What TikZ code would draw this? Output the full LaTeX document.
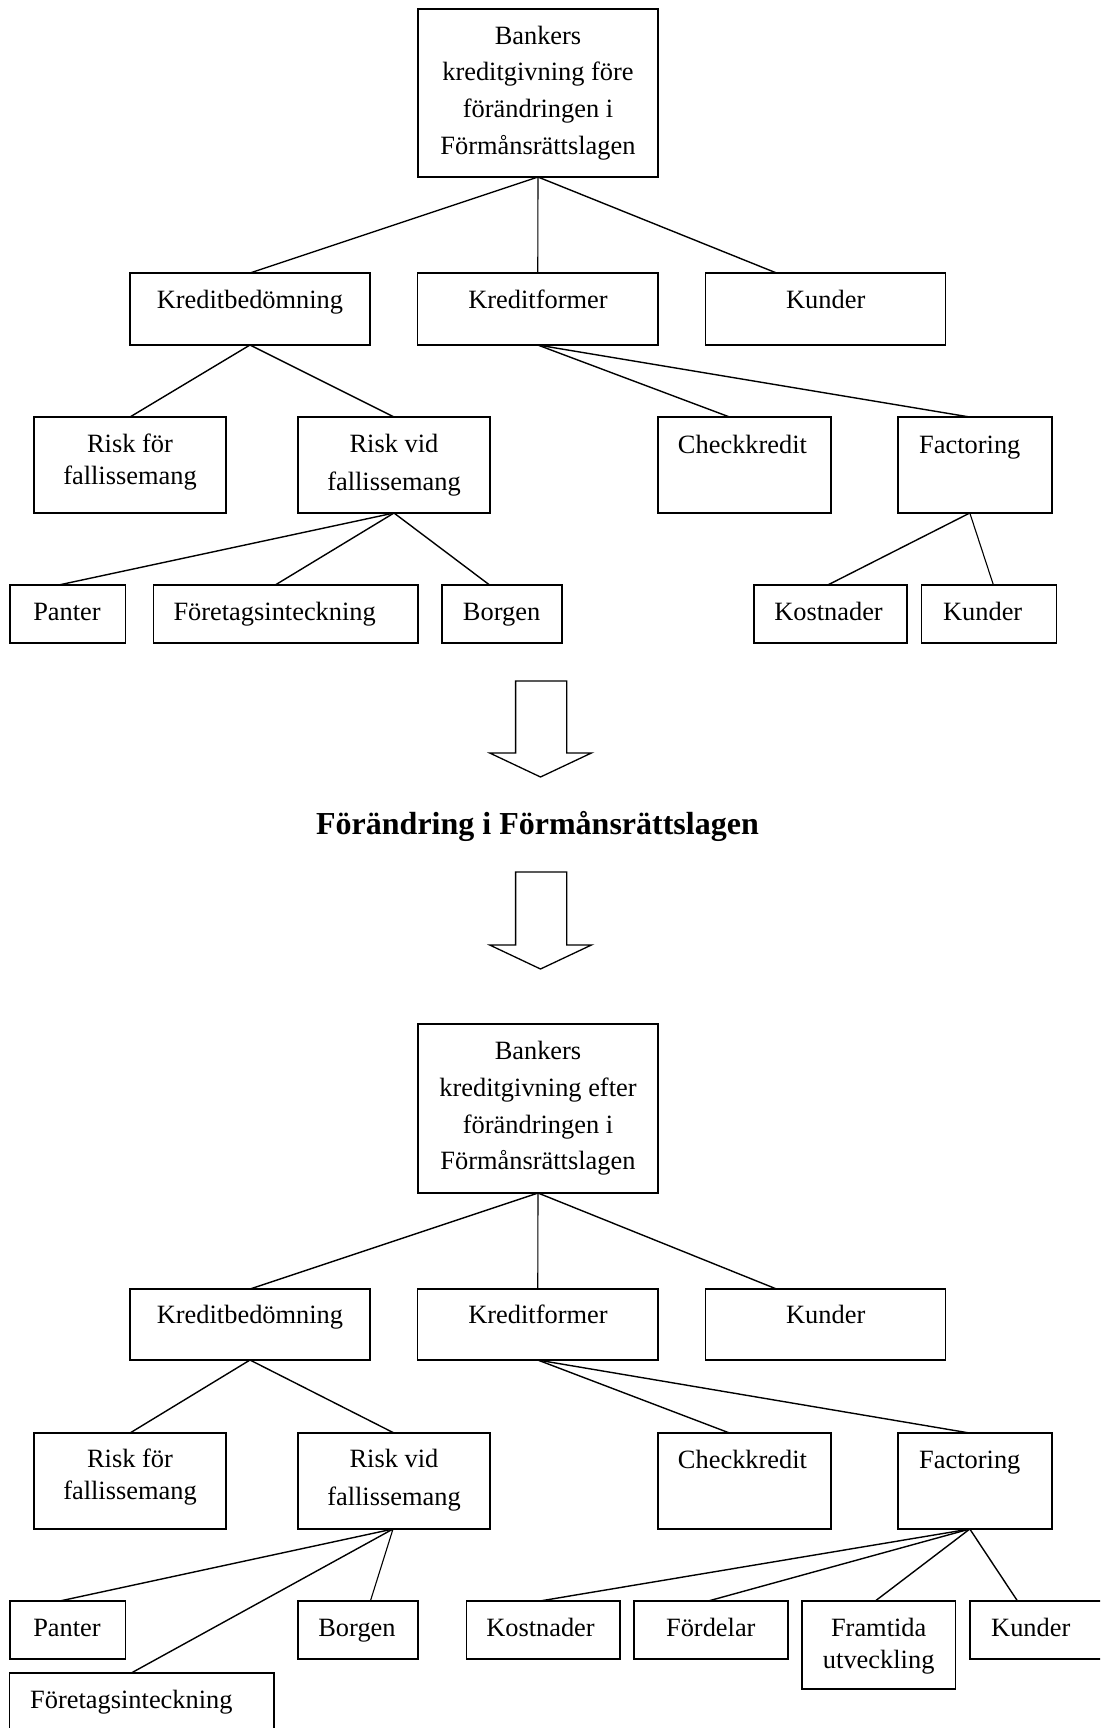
\documentclass[tikz,border=0pt]{standalone}
\usepackage{fontspec}
\setmainfont{Liberation Serif}
\newcommand\mkbox[5]{%
  \node[box, minimum width={#4-#2}, minimum height={#5-#3}] (#1) at ({(#2+#4)/2},{(#3+#5)/2}) {};}
\newcommand\stack[1]{\begin{tabular}[t]{@{}c@{}}#1\end{tabular}}
\tikzset{
  box/.style={draw, line width=1.5pt, inner sep=0pt, outer sep=0pt},
  link/.style={line width=1.4pt},
  thinlink/.style={line width=1.1pt},
  lbl/.style={inner sep=0pt, anchor=base, font=\fontsize{26.4}{31}\selectfont},
  lblw/.style={lbl, anchor=base west},
  heading/.style={inner sep=0pt, anchor=base, font=\fontsize{32}{38}\selectfont\bfseries},
  blockarrow/.style={draw, line width=1.3pt, line join=miter, fill=white},
}
\begin{document}
\begin{tikzpicture}[x=1pt, y=-1pt]
\useasboundingbox (0,0) rectangle (1100,1728);
\clip (0,0) rectangle (1100,1728);
\fill[white] (0,0) rectangle (1100,1728);

% ---------- before the change ----------
\mkbox{top1}{418}{9}{658}{177}
\mkbox{kb1}{130}{273}{370}{345}
\mkbox{kf1}{417.5}{273}{658}{345}
\mkbox{ku1}{705.5}{273}{945.5}{345}
\mkbox{rf1}{34}{417}{226}{513}
\mkbox{rv1}{298}{417}{490}{513}
\mkbox{ck1}{658}{417}{831}{513}
\mkbox{fa1}{898}{417}{1052}{513}
\mkbox{pa1}{10}{585}{125.5}{643}
\mkbox{fo1}{153.5}{585}{418}{643}
\mkbox{bo1}{442}{585}{562}{643}
\mkbox{ko1}{754}{585}{907}{643}
\mkbox{kd1}{921.5}{585}{1056.5}{643}

\node[lbl, font=\fontsize{26.4}{36.7}\selectfont] (top1t) at (538,44.3)
  {\stack{Bankers\\kreditgivning före\\förändringen i\\Förmånsrättslagen}};
\node[lbl] (kb1t) at (250,308) {Kreditbedömning};
\node[lbl] (kf1t) at (538,308) {Kreditformer};
\node[lbl] (ku1t) at (825.7,308) {Kunder};
\node[lbl, font=\fontsize{26.4}{32}\selectfont] (rf1t) at (130,452.3) {\stack{Risk för\\fallissemang}};
\node[lbl, font=\fontsize{26.4}{38}\selectfont] (rv1t) at (394,452.3) {\stack{Risk vid\\fallissemang}};
\node[lbl] (ck1t) at (742.5,453) {Checkkredit};
\node[lblw] (fa1t) at (919,453) {Factoring};
\node[lbl] (pa1t) at (67,620) {Panter};
\node[lblw] (fo1t) at (173.3,620) {Företagsinteckning};
\node[lbl] (bo1t) at (501.6,620) {Borgen};
\node[lbl] (ko1t) at (828.5,620) {Kostnader};
\node[lblw] (kd1t) at (942.9,620) {Kunder};

\draw[link] (top1.south) -- (kb1.north);
\draw[thinlink] (top1.south) -- (kf1.north);
\draw[link] (top1.south) -- ([xshift=71pt]ku1.north west);
\draw[link] (kb1.south) -- (rf1.north);
\draw[link] (kb1.south) -- (rv1.north);
\draw[link] (kf1.south) -- ([xshift=-15pt]ck1.north);
\draw[link] (kf1.south) -- ([xshift=-5.5pt]fa1.north);
\draw[link] (rv1.south) -- ([xshift=-9pt]pa1.north);
\draw[link] (rv1.south) -- ([xshift=-10.5pt]fo1.north);
\draw[link] (rv1.south) -- ([xshift=-12.4pt]bo1.north);
\draw[link] ([xshift=-5.2pt]fa1.south) -- ([xshift=-2.7pt]ko1.north);
\draw[thinlink] ([xshift=-5.2pt]fa1.south) -- ([xshift=4.4pt]kd1.north);

% ---------- the change ----------
\draw[blockarrow] (515.6,681) -- (566.8,681) -- (566.8,753) -- (591.4,753) -- (540.5,777)
  -- (489.7,753) -- (515.6,753) -- cycle;
\node[heading] (change) at (537.5,834) {Förändring i Förmånsrättslagen};
\draw[blockarrow] (515.6,872) -- (566.8,872) -- (566.8,945) -- (591.4,945) -- (540.5,969)
  -- (489.7,945) -- (515.6,945) -- cycle;

% ---------- after the change ----------
\mkbox{top2}{418}{1024}{658}{1193}
\mkbox{kb2}{130}{1289}{370}{1360}
\mkbox{kf2}{417.5}{1289}{658}{1360}
\mkbox{ku2}{705.5}{1289}{945.5}{1360}
\mkbox{rf2}{34}{1433}{226}{1529}
\mkbox{rv2}{298}{1433}{490}{1529}
\mkbox{ck2}{658}{1433}{831}{1529}
\mkbox{fa2}{898}{1433}{1052}{1529}
\mkbox{pa2}{10}{1601}{125.5}{1659}
\mkbox{bo2}{298}{1601}{418}{1659}
\mkbox{fo2}{9.5}{1673}{274}{1745}
\mkbox{ko2}{466.5}{1601}{620}{1659}
\mkbox{fd2}{634}{1601}{788}{1659}
\mkbox{fr2}{802}{1601}{955.5}{1689}
\mkbox{kd2}{970}{1601}{1120}{1659}

\node[lbl, font=\fontsize{26.4}{36.7}\selectfont] (top2t) at (538,1059.6)
  {\stack{Bankers\\kreditgivning efter\\förändringen i\\Förmånsrättslagen}};
\node[lbl] (kb2t) at (250,1323.7) {Kreditbedömning};
\node[lbl] (kf2t) at (538,1323.7) {Kreditformer};
\node[lbl] (ku2t) at (825.7,1323.7) {Kunder};
\node[lbl, font=\fontsize{26.4}{32}\selectfont] (rf2t) at (130,1467.7) {\stack{Risk för\\fallissemang}};
\node[lbl, font=\fontsize{26.4}{38}\selectfont] (rv2t) at (394,1467.7) {\stack{Risk vid\\fallissemang}};
\node[lbl] (ck2t) at (742.5,1468) {Checkkredit};
\node[lblw] (fa2t) at (919,1468) {Factoring};
\node[lbl] (pa2t) at (67,1636) {Panter};
\node[lbl] (bo2t) at (357,1636) {Borgen};
\node[lblw] (fo2t) at (30,1708.3) {Företagsinteckning};
\node[lbl] (ko2t) at (540.5,1636) {Kostnader};
\node[lbl] (fd2t) at (710.8,1636) {Fördelar};
\node[lbl, font=\fontsize{26.4}{32.3}\selectfont] (fr2t) at (878.7,1636) {\stack{Framtida\\utveckling}};
\node[lblw] (kd2t) at (991,1636) {Kunder};

\draw[link] (top2.south) -- (kb2.north);
\draw[thinlink] (top2.south) -- (kf2.north);
\draw[link] (top2.south) -- ([xshift=71pt]ku2.north west);
\draw[link] (kb2.south) -- (rf2.north);
\draw[link] (kb2.south) -- (rv2.north);
\draw[link] (kf2.south) -- ([xshift=-15pt]ck2.north);
\draw[link] (kf2.south) -- ([xshift=-5.5pt]fa2.north);
\draw[link] ([xshift=-1pt]rv2.south) -- ([xshift=-8pt]pa2.north);
\draw[link] ([xshift=-1pt]rv2.south) -- ([xshift=-10.5pt]fo2.north);
\draw[thinlink] ([xshift=-1pt]rv2.south) -- ([xshift=12.4pt]bo2.north);
\draw[link] ([xshift=-5.2pt]fa2.south) -- ([xshift=-3.5pt]ko2.north);
\draw[link] ([xshift=-5.2pt]fa2.south) -- ([xshift=-2.8pt]fd2.north);
\draw[link] ([xshift=-5.2pt]fa2.south) -- ([xshift=-3.5pt]fr2.north);
\draw[link] ([xshift=-5.2pt]fa2.south) -- ([xshift=47.5pt]kd2.north west);
\end{tikzpicture}
\end{document}
